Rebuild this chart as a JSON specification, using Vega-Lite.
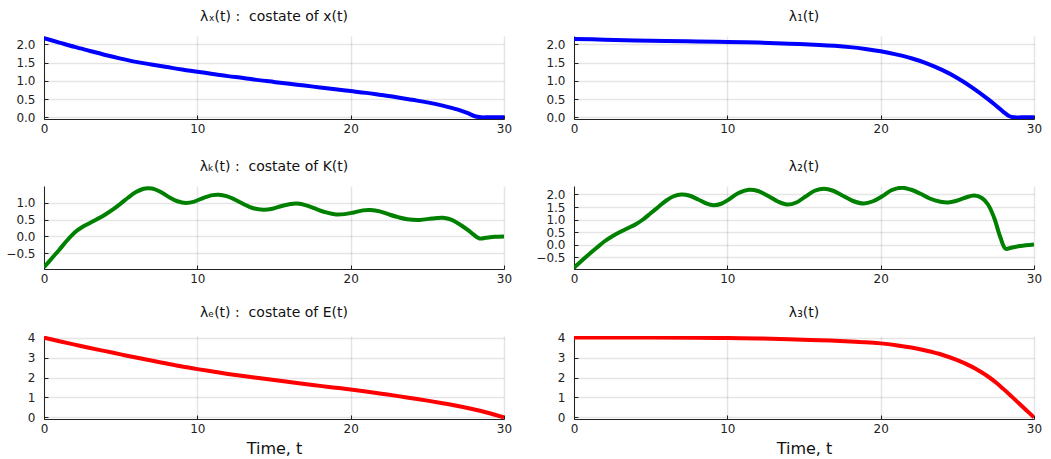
{
  "$schema": "https://vega.github.io/schema/vega-lite/v6.json",
  "padding": {"left": 5, "top": 10, "right": 5, "bottom": 2},
  "background": "white",
  "config": {
    "view": {"stroke": null},
    "font": "DejaVu Sans",
    "axis": {
      "labelFont": "DejaVu Sans", "labelFontSize": 12, "labelColor": "#222", "labelFlush": false,
      "domainColor": "#222", "domainWidth": 1, "tickColor": "#222", "tickSize": -4,
      "gridColor": "#000", "gridOpacity": 0.1, "gridWidth": 1.5,
      "titleFont": "DejaVu Sans", "titleFontSize": 16, "titleFontWeight": "normal", "titleColor": "#111"
    },
    "axisX": {"labelPadding": 8, "titlePadding": 6},
    "axisY": {"labelPadding": 13},
    "title": {"font": "DejaVu Sans", "fontSize": 14, "fontWeight": "normal", "color": "#111", "offset": 12}
  },
  "datasets": {
    "lx": [{"t":0,"v":2.17},{"t":1,"v":2.05},{"t":2,"v":1.93},{"t":3,"v":1.82},{"t":4,"v":1.71},{"t":5,"v":1.61},{"t":6,"v":1.52},{"t":7,"v":1.45},{"t":8,"v":1.38},{"t":9,"v":1.31},{"t":10,"v":1.25},{"t":11,"v":1.19},{"t":12,"v":1.13},{"t":13,"v":1.08},{"t":14,"v":1.02},{"t":15,"v":0.97},{"t":16,"v":0.92},{"t":17,"v":0.87},{"t":18,"v":0.82},{"t":19,"v":0.77},{"t":20,"v":0.72},{"t":21,"v":0.67},{"t":22,"v":0.61},{"t":23,"v":0.55},{"t":24,"v":0.48},{"t":25,"v":0.41},{"t":26,"v":0.32},{"t":27,"v":0.21},{"t":27.6,"v":0.12},{"t":28.1,"v":0.03},{"t":28.5,"v":0},{"t":29,"v":0},{"t":30,"v":0}],
    "l1": [{"t":0,"v":2.15},{"t":2,"v":2.13},{"t":4,"v":2.11},{"t":6,"v":2.09},{"t":8,"v":2.08},{"t":10,"v":2.065},{"t":12,"v":2.05},{"t":14,"v":2.02},{"t":16,"v":1.985},{"t":17,"v":1.96},{"t":18,"v":1.925},{"t":19,"v":1.875},{"t":20,"v":1.81},{"t":21,"v":1.725},{"t":22,"v":1.62},{"t":23,"v":1.48},{"t":24,"v":1.3},{"t":25,"v":1.08},{"t":26,"v":0.81},{"t":27,"v":0.5},{"t":27.5,"v":0.33},{"t":28,"v":0.15},{"t":28.4,"v":0.03},{"t":28.7,"v":0},{"t":29.2,"v":0},{"t":30,"v":0}],
    "lK": [{"t":0,"v":-0.91},{"t":0.5,"v":-0.65},{"t":1,"v":-0.39},{"t":1.5,"v":-0.12},{"t":2,"v":0.12},{"t":2.5,"v":0.28},{"t":3,"v":0.4},{"t":3.5,"v":0.52},{"t":4,"v":0.65},{"t":4.5,"v":0.8},{"t":5,"v":0.97},{"t":5.5,"v":1.15},{"t":6,"v":1.31},{"t":6.5,"v":1.41},{"t":6.8,"v":1.42},{"t":7.2,"v":1.4},{"t":7.7,"v":1.29},{"t":8.2,"v":1.15},{"t":8.7,"v":1.04},{"t":9.25,"v":0.99},{"t":9.8,"v":1.03},{"t":10.4,"v":1.14},{"t":11,"v":1.22},{"t":11.4,"v":1.23},{"t":11.9,"v":1.19},{"t":12.4,"v":1.1},{"t":13,"v":0.96},{"t":13.6,"v":0.84},{"t":14.3,"v":0.79},{"t":14.9,"v":0.82},{"t":15.5,"v":0.9},{"t":16.1,"v":0.96},{"t":16.5,"v":0.97},{"t":17.1,"v":0.92},{"t":17.7,"v":0.82},{"t":18.4,"v":0.71},{"t":19.05,"v":0.65},{"t":19.6,"v":0.66},{"t":20.2,"v":0.71},{"t":20.8,"v":0.77},{"t":21.3,"v":0.78},{"t":21.9,"v":0.74},{"t":22.5,"v":0.65},{"t":23.1,"v":0.57},{"t":23.7,"v":0.51},{"t":24.5,"v":0.49},{"t":25.3,"v":0.53},{"t":26,"v":0.55},{"t":26.6,"v":0.49},{"t":27.2,"v":0.33},{"t":27.7,"v":0.17},{"t":28,"v":0.06},{"t":28.4,"v":-0.06},{"t":28.8,"v":-0.04},{"t":29.4,"v":-0.01},{"t":30,"v":0}],
    "l2": [{"t":0,"v":-0.93},{"t":0.5,"v":-0.65},{"t":1,"v":-0.38},{"t":1.5,"v":-0.12},{"t":2,"v":0.13},{"t":2.5,"v":0.33},{"t":3,"v":0.5},{"t":3.5,"v":0.65},{"t":4,"v":0.8},{"t":4.5,"v":1.0},{"t":5,"v":1.25},{"t":5.5,"v":1.5},{"t":6,"v":1.75},{"t":6.5,"v":1.93},{"t":7.0,"v":2.0},{"t":7.5,"v":1.96},{"t":8.1,"v":1.8},{"t":8.6,"v":1.65},{"t":9.1,"v":1.57},{"t":9.6,"v":1.63},{"t":10.1,"v":1.8},{"t":10.7,"v":2.05},{"t":11.4,"v":2.19},{"t":12.0,"v":2.14},{"t":12.7,"v":1.93},{"t":13.3,"v":1.72},{"t":13.9,"v":1.6},{"t":14.5,"v":1.68},{"t":15.1,"v":1.92},{"t":15.7,"v":2.15},{"t":16.3,"v":2.23},{"t":16.9,"v":2.15},{"t":17.5,"v":1.96},{"t":18.2,"v":1.74},{"t":18.9,"v":1.64},{"t":19.5,"v":1.73},{"t":20.1,"v":1.93},{"t":20.7,"v":2.17},{"t":21.4,"v":2.27},{"t":22.0,"v":2.19},{"t":22.6,"v":2.03},{"t":23.2,"v":1.84},{"t":23.9,"v":1.71},{"t":24.4,"v":1.68},{"t":24.9,"v":1.74},{"t":25.5,"v":1.87},{"t":26.1,"v":1.96},{"t":26.6,"v":1.86},{"t":27.0,"v":1.6},{"t":27.4,"v":1.07},{"t":27.8,"v":0.3},{"t":28.15,"v":-0.17},{"t":28.5,"v":-0.13},{"t":29.1,"v":-0.06},{"t":30,"v":0}],
    "lE": [{"t":0,"v":4.0},{"t":1,"v":3.82},{"t":2,"v":3.65},{"t":3,"v":3.48},{"t":4,"v":3.32},{"t":5,"v":3.16},{"t":6,"v":3.0},{"t":7,"v":2.85},{"t":8,"v":2.7},{"t":9,"v":2.55},{"t":10,"v":2.42},{"t":11,"v":2.3},{"t":12,"v":2.18},{"t":13,"v":2.07},{"t":14,"v":1.97},{"t":15,"v":1.87},{"t":16,"v":1.77},{"t":17,"v":1.67},{"t":18,"v":1.58},{"t":19,"v":1.49},{"t":20,"v":1.4},{"t":21,"v":1.3},{"t":22,"v":1.19},{"t":23,"v":1.08},{"t":24,"v":0.96},{"t":25,"v":0.84},{"t":26,"v":0.71},{"t":27,"v":0.57},{"t":28,"v":0.41},{"t":29,"v":0.22},{"t":30,"v":0}],
    "l3": [{"t":0,"v":4.0},{"t":5,"v":4.0},{"t":8,"v":3.99},{"t":10,"v":3.98},{"t":12,"v":3.96},{"t":14,"v":3.92},{"t":16,"v":3.87},{"t":18,"v":3.81},{"t":19,"v":3.77},{"t":20,"v":3.71},{"t":21,"v":3.62},{"t":22,"v":3.5},{"t":23,"v":3.34},{"t":24,"v":3.14},{"t":25,"v":2.87},{"t":26,"v":2.52},{"t":26.5,"v":2.3},{"t":27,"v":2.05},{"t":27.5,"v":1.76},{"t":28,"v":1.43},{"t":28.5,"v":1.08},{"t":29,"v":0.72},{"t":29.5,"v":0.36},{"t":30,"v":0}]
  },
  "bounds": "flush",
  "columns": 2,
  "spacing": {"row": 67, "column": 70},
  "concat": [
    {
      "width": 460, "height": 83,
      "title": "λₓ(t) :\u00a0 costate of x(t)",
      "data": {"name": "lx"},
      "mark": {"type": "line", "color": "#0000ff", "strokeWidth": 4, "interpolate": "catmull-rom", "clip": true},
      "encoding": {
        "x": {"field": "t", "type": "quantitative", "scale": {"domain": [0, 30], "nice": false}, "axis": {"values": [0, 10, 20, 30], "title": null}},
        "y": {"field": "v", "type": "quantitative", "scale": {"domain": [-0.046, 2.23], "nice": false, "zero": false}, "axis": {"values": [0, 0.5, 1, 1.5, 2], "format": ".1f", "title": null}}
      }
    },
    {
      "width": 460, "height": 83,
      "title": "λ₁(t)",
      "data": {"name": "l1"},
      "mark": {"type": "line", "color": "#0000ff", "strokeWidth": 4, "interpolate": "catmull-rom", "clip": true},
      "encoding": {
        "x": {"field": "t", "type": "quantitative", "scale": {"domain": [0, 30], "nice": false}, "axis": {"values": [0, 10, 20, 30], "title": null}},
        "y": {"field": "v", "type": "quantitative", "scale": {"domain": [-0.046, 2.23], "nice": false, "zero": false}, "axis": {"values": [0, 0.5, 1, 1.5, 2], "format": ".1f", "title": null}}
      }
    },
    {
      "width": 460, "height": 83,
      "title": "λₖ(t) :\u00a0 costate of K(t)",
      "data": {"name": "lK"},
      "mark": {"type": "line", "color": "#008000", "strokeWidth": 4, "interpolate": "catmull-rom", "clip": true},
      "encoding": {
        "x": {"field": "t", "type": "quantitative", "scale": {"domain": [0, 30], "nice": false}, "axis": {"values": [0, 10, 20, 30], "title": null}},
        "y": {"field": "v", "type": "quantitative", "scale": {"domain": [-0.96, 1.49], "nice": false, "zero": false}, "axis": {"values": [-0.5, 0, 0.5, 1], "format": ".1f", "title": null}}
      }
    },
    {
      "width": 460, "height": 83,
      "title": "λ₂(t)",
      "data": {"name": "l2"},
      "mark": {"type": "line", "color": "#008000", "strokeWidth": 4, "interpolate": "catmull-rom", "clip": true},
      "encoding": {
        "x": {"field": "t", "type": "quantitative", "scale": {"domain": [0, 30], "nice": false}, "axis": {"values": [0, 10, 20, 30], "title": null}},
        "y": {"field": "v", "type": "quantitative", "scale": {"domain": [-0.98, 2.34], "nice": false, "zero": false}, "axis": {"values": [-0.5, 0, 0.5, 1, 1.5, 2], "format": ".1f", "title": null}}
      }
    },
    {
      "width": 460, "height": 83,
      "title": "λₑ(t) :\u00a0 costate of E(t)",
      "data": {"name": "lE"},
      "mark": {"type": "line", "color": "#ff0000", "strokeWidth": 4, "interpolate": "catmull-rom", "clip": true},
      "encoding": {
        "x": {"field": "t", "type": "quantitative", "scale": {"domain": [0, 30], "nice": false}, "axis": {"values": [0, 10, 20, 30], "title": "Time, t"}},
        "y": {"field": "v", "type": "quantitative", "scale": {"domain": [-0.08, 4.08], "nice": false, "zero": false}, "axis": {"values": [0, 1, 2, 3, 4], "format": "d", "title": null}}
      }
    },
    {
      "width": 460, "height": 83,
      "title": "λ₃(t)",
      "data": {"name": "l3"},
      "mark": {"type": "line", "color": "#ff0000", "strokeWidth": 4, "interpolate": "catmull-rom", "clip": true},
      "encoding": {
        "x": {"field": "t", "type": "quantitative", "scale": {"domain": [0, 30], "nice": false}, "axis": {"values": [0, 10, 20, 30], "title": "Time, t"}},
        "y": {"field": "v", "type": "quantitative", "scale": {"domain": [-0.08, 4.08], "nice": false, "zero": false}, "axis": {"values": [0, 1, 2, 3, 4], "format": "d", "title": null}}
      }
    }
  ]
}
